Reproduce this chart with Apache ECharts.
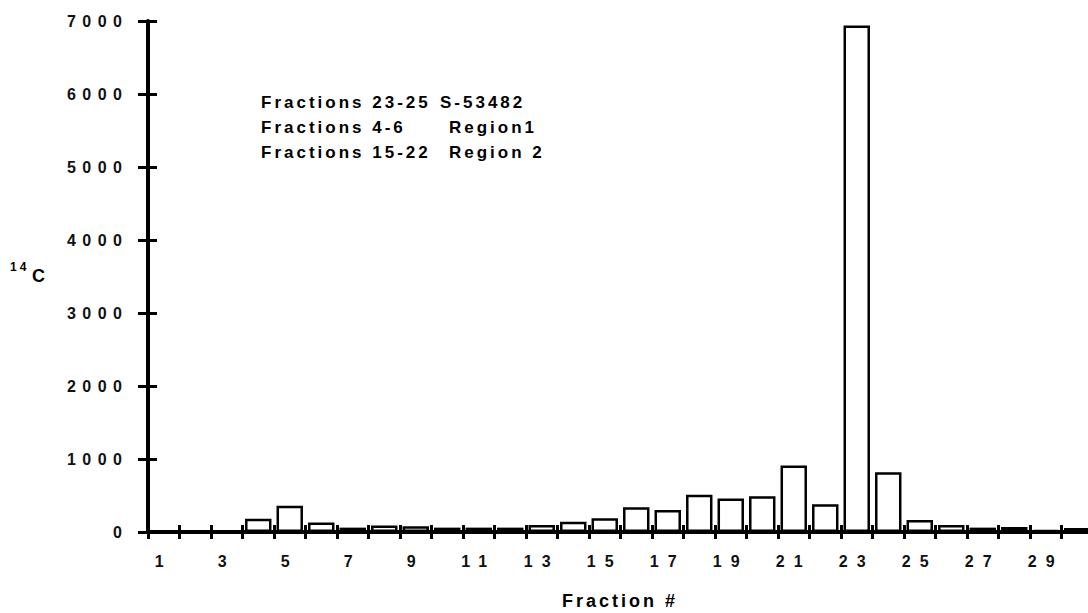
<!DOCTYPE html>
<html>
<head>
<meta charset="utf-8">
<title>Fraction 14C</title>
<script src="https://cdn.jsdelivr.net/npm/echarts@6/dist/echarts.min.js"></script>
<style>
  html, body { margin: 0; padding: 0; background: #fff; }
  #chart { width: 1088px; height: 613px; }
  /* wide spacing of the scanned figure's lettering */
  #chart text { letter-spacing: 3px; }
  #chart text[style*="16px"] { letter-spacing: 9px; }
  #chart text[style*="Arial"] { letter-spacing: 6.5px; }
</style>
</head>
<body>
<div id="chart"></div>
<script>
// fraction number on x
const fractions = ['1', '2', '3', '4', '5', '6', '7', '8', '9', '10',
  '11', '12', '13', '14', '15', '16', '17', '18', '19', '20',
  '21', '22', '23', '24', '25', '26', '27', '28', '29', '30']
// 14C counts
const counts = [15, 10, 10, 180, 360, 130, 60, 90, 80, 60,
  60, 60, 95, 140, 190, 340, 300, 510, 460, 490,
  910, 380, 6940, 820, 165, 95, 60, 70, 25, 55]
const yMin = 0
const yMax = 7000
const yStep = 1000
const noteLeft = ['Fractions 23-25', 'Fractions 4-6', 'Fractions 15-22']
const noteRight = ['S-53482', 'Region1', 'Region 2']

const ink = '#000'
const font = 'Liberation Sans'

const graphics = []
noteLeft.forEach(function(txt, i) {
  const y = 94 + i * 25
  graphics.push({
    type: 'text', x: 261, y: y,
    style: { text: txt, fill: ink, font: 'bold 17px ' + font }
  })
  graphics.push({
    type: 'text', x: i === 0 ? 440 : 449, y: y,
    style: { text: noteRight[i], fill: ink, font: 'bold 17px ' + font }
  })
})
// y axis name, 14 raised before the C
graphics.push({
  type: 'text', x: 10, y: 261,
  style: { text: '14', fill: ink, font: 'bold 12px ' + font }
})
graphics.push({
  type: 'text', x: 32, y: 267,
  style: { text: 'C', fill: ink, font: 'bold 18px ' + font }
})
graphics.push({
  type: 'text', x: 620, y: 592,
  style: { text: 'Fraction #', fill: ink, font: 'bold 18px ' + font, align: 'center' }
})

const option = {
  animation: false,
  backgroundColor: '#fff',
  grid: { left: 148, top: 21, width: 945, height: 511, outerBoundsMode: 'none' },
  xAxis: [{
    type: 'category',
    data: fractions,
    position: 'bottom',
    boundaryGap: true,
    axisLine: { show: true, lineStyle: { color: ink, width: 4 } },
    axisTick: { show: true, interval: 0, length: 7, lineStyle: { color: ink, width: 3 } },
    axisLabel: {
      show: true, interval: 1, margin: 21,
      color: '#111', fontFamily: font, fontWeight: 'bold', fontSize: 16
    },
    splitLine: { show: false }
  }, {
    // second copy only for the ticks that poke up through the axis
    type: 'category',
    data: fractions,
    position: 'bottom',
    boundaryGap: true,
    axisLine: { show: false },
    axisLabel: { show: false },
    splitLine: { show: false },
    axisTick: { show: true, inside: true, interval: 0, length: 7, lineStyle: { color: ink, width: 3 } }
  }],
  yAxis: [{
    type: 'value',
    min: yMin,
    max: yMax,
    interval: yStep,
    position: 'left',
    axisLine: { show: true, lineStyle: { color: ink, width: 4 } },
    axisTick: { show: true, length: 10, lineStyle: { color: ink, width: 3 } },
    axisLabel: {
      show: true, margin: 19.5,
      color: '#111', fontFamily: 'Arial', fontWeight: 'bold', fontSize: 16,
      formatter: function(v) { return String(v) }
    },
    splitLine: { show: false }
  }, {
    type: 'value',
    min: yMin,
    max: yMax,
    interval: yStep,
    position: 'left',
    axisLine: { show: false },
    axisLabel: { show: false },
    splitLine: { show: false },
    axisTick: { show: true, inside: true, length: 9, lineStyle: { color: ink, width: 3 } }
  }],
  series: [{
    type: 'bar',
    xAxisIndex: 0,
    yAxisIndex: 0,
    data: counts,
    barCategoryGap: '16%',
    itemStyle: { color: '#fff', borderColor: ink, borderWidth: 2.5 }
  }],
  graphic: graphics
}

const chart = echarts.init(document.getElementById('chart'), null, { renderer: 'svg' })
chart.setOption(option)
</script>
</body>
</html>
